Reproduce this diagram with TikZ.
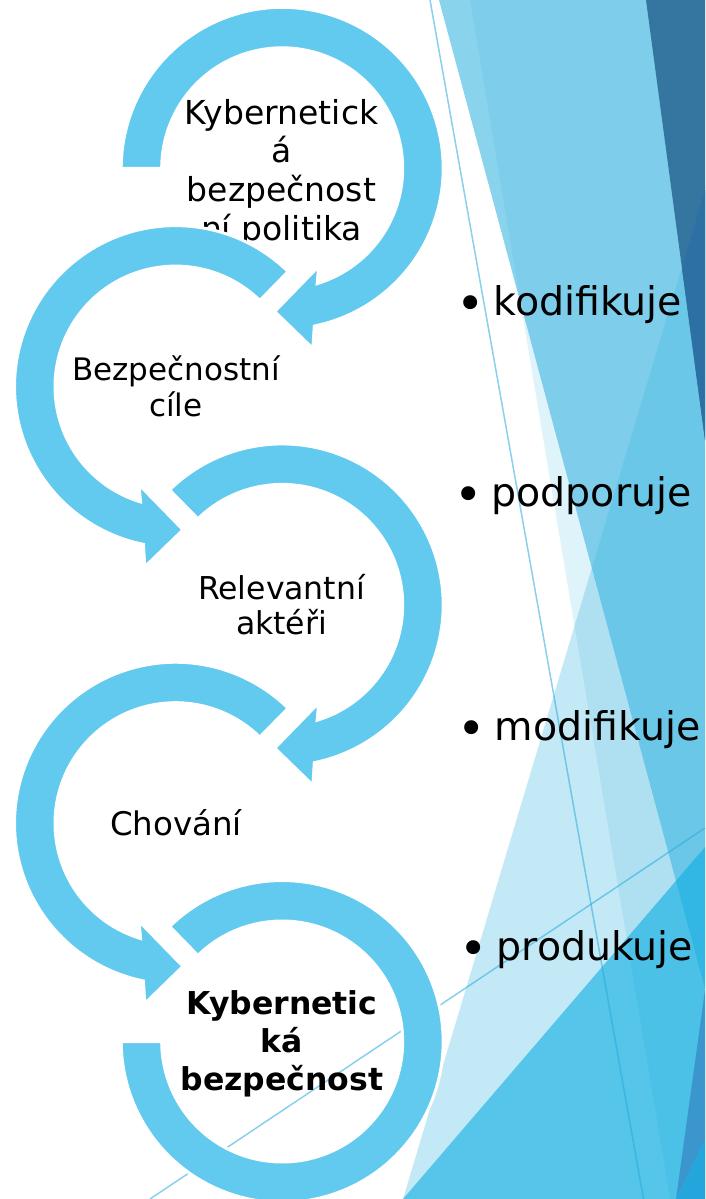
\documentclass[tikz,border=0pt]{standalone}
\usepackage{fontspec}
\setmainfont{DejaVu Sans}
\definecolor{ringc}{RGB}{98,202,238}
\definecolor{facet}{RGB}{67,184,226}
\definecolor{facetB}{RGB}{12,173,226}
\definecolor{darkA}{RGB}{52,118,160}
\definecolor{darkB}{RGB}{45,112,163}
\definecolor{stripc}{RGB}{58,150,204}
\definecolor{cornerc}{RGB}{36,166,220}
\definecolor{linec}{RGB}{40,170,222}
\def\Ro{161}
\def\Ri{120.5}
\newcommand{\HeadLeftRing}[3]{%
  \filldraw[ringshape] plot[domain=#3:438.5,samples=150] ({#1+\Ro*cos(\x)},{#2+\Ro*sin(\x)})
    -- ({#1+30.7},{#2+180.3}) -- ({#1-7.5},{#2+143.2}) -- ({#1+36.5},{#2+98})
    -- plot[domain=433.15:#3,samples=150] ({#1+\Ri*cos(\x)},{#2+\Ri*sin(\x)}) -- cycle;}
\newcommand{\HeadRightRing}[2]{%
  \filldraw[ringshape] plot[domain=314.4:101.5,samples=150] ({#1+\Ro*cos(\x)},{#2+\Ro*sin(\x)})
    -- ({#1-30.7},{#2+180.3}) -- ({#1+7.5},{#2+143.2}) -- ({#1-36.5},{#2+98})
    -- plot[domain=106.85:314.4,samples=150] ({#1+\Ri*cos(\x)},{#2+\Ri*sin(\x)}) -- cycle;}
\newcommand{\bulletmark}{\raisebox{-5pt}{\fontsize{48}{48}\selectfont •}\hspace{8.9pt}}
\tikzset{
  ringshape/.style={fill=ringc, draw=white, line width=3pt, line join=miter},
  bglayer/.style={fill=facet, fill opacity=#1},
  thinline/.style={draw=linec, line width=1.5pt, draw opacity=0.55},
  circtext/.style={inner sep=0pt, anchor=base, text=black},
  bullettext/.style={inner sep=0pt, anchor=base west, text=black, font=\fontsize{39.5}{47}\selectfont},
}
\begin{document}
\begin{tikzpicture}[x=1pt,y=-1pt]
\useasboundingbox (0,0) rectangle (705,1199);
\fill[white] (0,0) rectangle (705,1199);
% background facets
\fill[bglayer=0.17] (470,0) -- (670.2,1199) -- (705,1199) -- (705,0) -- cycle;
\fill[bglayer=0.62] (439,0) -- (705,988.8) -- (705,0) -- cycle;
\fill[bglayer=0.31] (705,190) -- (403,1199) -- (705,1199) -- cycle;
\fill[darkA] (646,0) -- (705,0) -- (705,440) -- cycle;
\fill[darkB] (682,268) -- (705,190) -- (705,440) -- cycle;
\fill[facetB, fill opacity=0.6] (403,1199) -- (705,847) -- (705,1199) -- cycle;
\fill[stripc] (705,990) -- (676,1199) -- (705,1140) -- cycle;
\fill[cornerc] (705,1140) -- (676,1199) -- (705,1199) -- cycle;
\coordinate (la1) at (430,0);
\coordinate (la2) at (643.5,1199);
\draw[thinline] (la1) -- (la2);
\coordinate (lc1) at (705,828);
\coordinate (lc2) at (150,1199);
\draw[thinline] (lc1) -- (lc2);
% ring 1
\HeadLeftRing{282.2}{168.3}{180}
\begin{scope}
\clip (0,0) rectangle (705,240.7);
\node[circtext, font=\fontsize{33}{38.7}\selectfont] (t1) at (281.5,124)
  {\begin{tabular}[t]{@{}c@{}}Kybernetick\\á\\bezpečnost\\ní politika\end{tabular}};
\end{scope}
% ring 2
\HeadRightRing{175.5}{386.6}
\node[circtext, font=\fontsize{31}{36.7}\selectfont] (t2) at (176,380)
  {\begin{tabular}[t]{@{}c@{}}Bezpečnostní\\cíle\end{tabular}};
% ring 3
\HeadLeftRing{282.2}{604.9}{225.6}
\node[circtext, font=\fontsize{31.5}{34.3}\selectfont] (t3) at (281.5,599)
  {\begin{tabular}[t]{@{}c@{}}Relevantní\\aktéři\end{tabular}};
% ring 4
\HeadRightRing{175.5}{823.2}
\node[circtext, font=\fontsize{32.5}{38}\selectfont] (t4) at (176,835) {Chování};
% ring 5
\filldraw[ringshape] plot[domain=225.6:540,samples=150] ({282.2+\Ro*cos(\x)},{1041.5+\Ro*sin(\x)})
  -- plot[domain=540:225.6,samples=150] ({282.2+\Ri*cos(\x)},{1041.5+\Ri*sin(\x)}) -- cycle;
\node[circtext, font=\bfseries\fontsize{31.5}{38.3}\selectfont] (t5) at (282,1014)
  {\begin{tabular}[t]{@{}c@{}}Kybernetic\\ká\\bezpečnost\end{tabular}};
% bullets
\node[bullettext] (b1) at (456.1,315) {\bulletmark kodifikuje};
\node[bullettext] (b2) at (454.1,506.7) {\bulletmark podporuje};
\node[bullettext] (b3) at (457.5,740) {\bulletmark modifikuje};
\node[bullettext] (b4) at (459.1,960) {\bulletmark produkuje};
\end{tikzpicture}
\end{document}
